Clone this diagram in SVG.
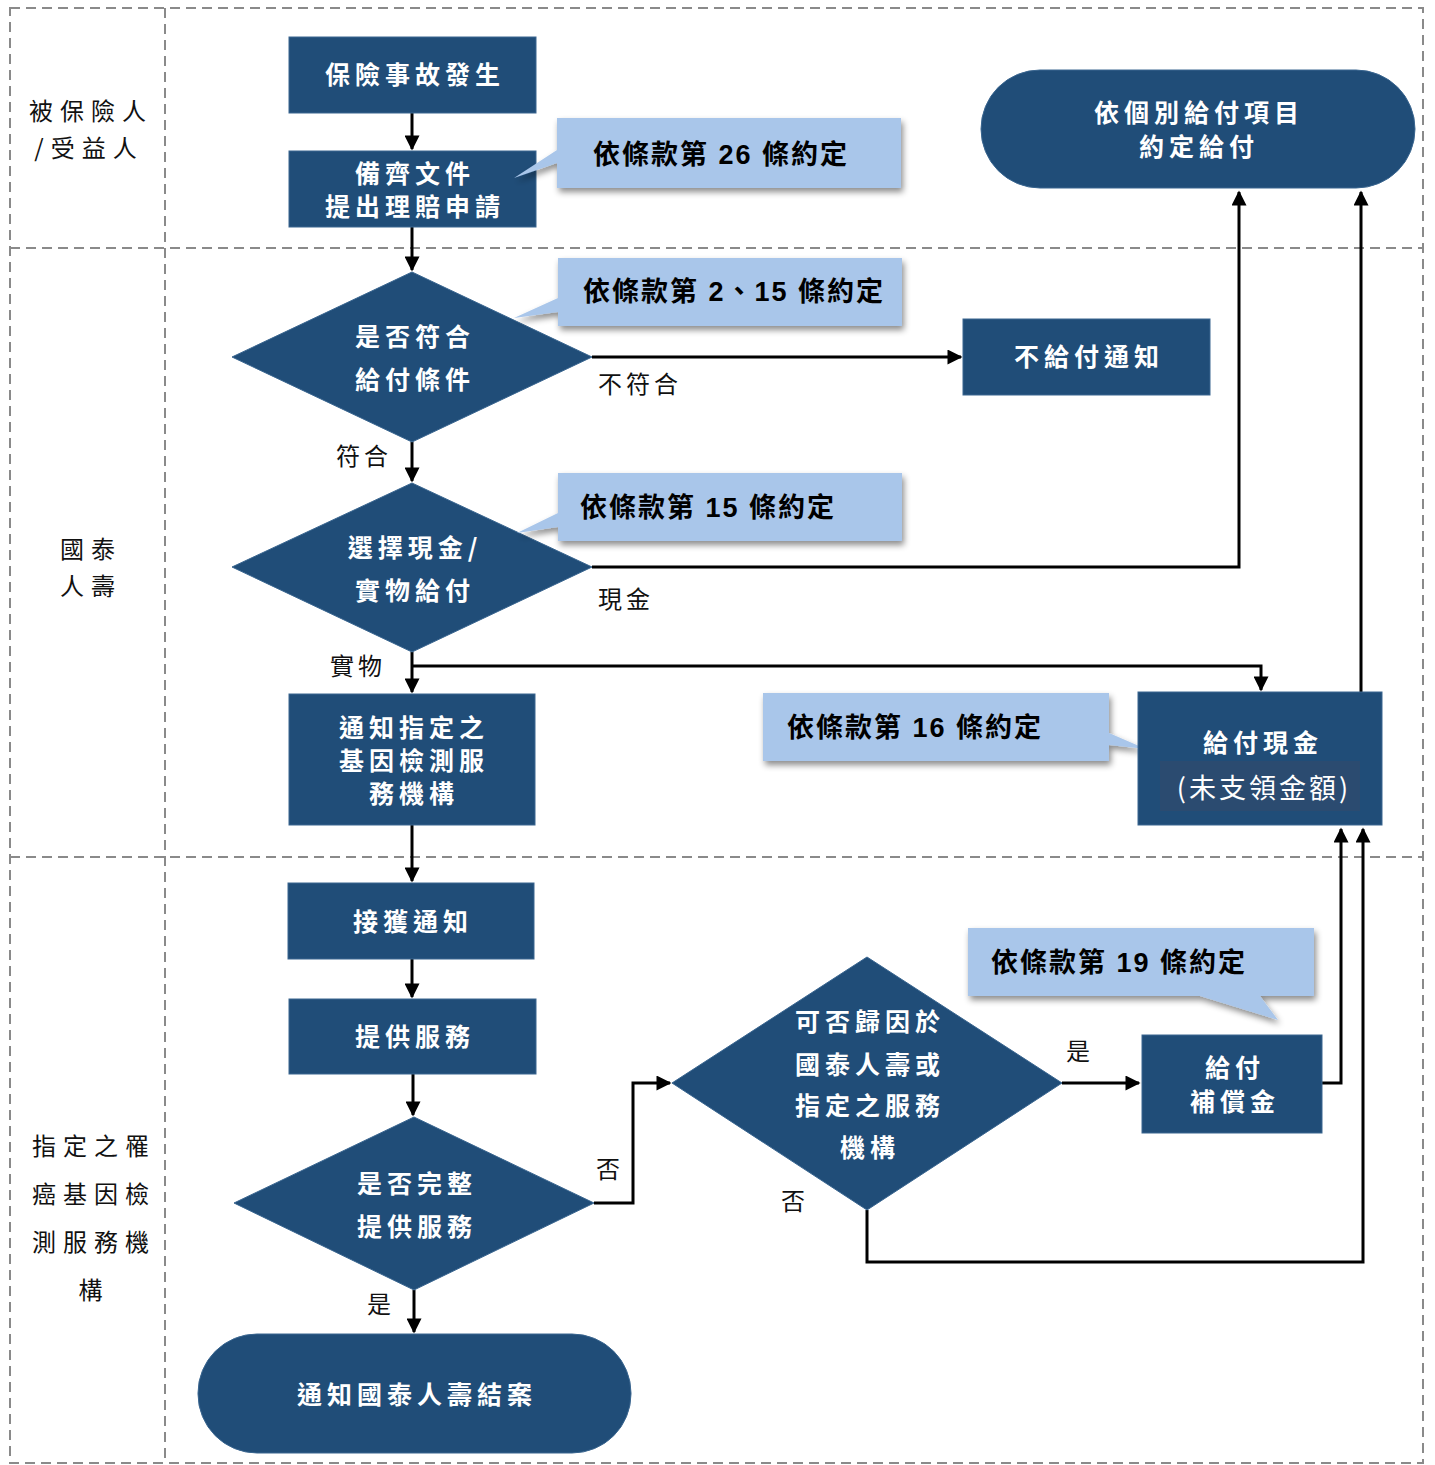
<svg xmlns="http://www.w3.org/2000/svg" width="1435" height="1465" viewBox="0 0 1435 1465">
<style>
.lane{fill:none;stroke:#8a8a8a;stroke-width:2;stroke-dasharray:10,6}
.node{fill:#204d78;stroke:#3a6690;stroke-width:1}
.nt{font-family:"Noto Sans CJK TC","Noto Sans CJK SC",sans-serif;font-size:25px;font-weight:700;fill:#ffffff;text-anchor:middle;letter-spacing:5px}
.lt{font-family:"Noto Sans CJK TC","Noto Sans CJK SC",sans-serif;font-size:24px;fill:#111;text-anchor:middle;letter-spacing:7px}
.el{font-family:"Noto Sans CJK TC","Noto Sans CJK SC",sans-serif;font-size:24px;fill:#111;letter-spacing:4px}
.co{fill:#a9c6ea}
.ct{font-family:"Liberation Sans","Noto Sans CJK TC",sans-serif;font-size:27px;font-weight:700;fill:#000;letter-spacing:2px}
.ln{fill:none;stroke:#000;stroke-width:3}
</style>
<defs>
<marker id="ah" viewBox="0 0 10 10" refX="9" refY="5" markerWidth="5.5" markerHeight="5" orient="auto" markerUnits="strokeWidth">
<path d="M0,0 L10,5 L0,10 z" fill="#000"/>
</marker>
<filter id="sh" x="-10%" y="-20%" width="130%" height="150%">
<feDropShadow dx="2" dy="4" stdDeviation="3" flood-color="#000" flood-opacity="0.45"/>
</filter>
</defs>

<g id="lanes">
<rect class="lane" x="10" y="8" width="1413" height="1455"/>
<line class="lane" x1="165" y1="8" x2="165" y2="1463"/>
<line class="lane" x1="10" y1="248" x2="1423" y2="248"/>
<line class="lane" x1="10" y1="857" x2="1423" y2="857"/>
<text class="lt" x="91" y="120">被保險人</text>
<text class="lt" x="89" y="157">/受益人</text>
<text class="lt" x="91" y="558">國泰</text>
<text class="lt" x="91" y="595">人壽</text>
<text class="lt" x="94" y="1155">指定之罹</text>
<text class="lt" x="94" y="1203">癌基因檢</text>
<text class="lt" x="94" y="1251">測服務機</text>
<text class="lt" x="94" y="1299">構</text>
</g>

<g id="connectors">
<line class="ln" x1="412" y1="113" x2="412" y2="149" marker-end="url(#ah)"/>
<line class="ln" x1="412" y1="227" x2="412" y2="270" marker-end="url(#ah)"/>
<line class="ln" x1="592" y1="357" x2="961" y2="357" marker-end="url(#ah)"/>
<line class="ln" x1="412" y1="442" x2="412" y2="481" marker-end="url(#ah)"/>
<polyline class="ln" points="592,567 1239,567 1239,192" marker-end="url(#ah)"/>
<line class="ln" x1="412" y1="652" x2="412" y2="692" marker-end="url(#ah)"/>
<polyline class="ln" points="412,666 1261,666 1261,690" marker-end="url(#ah)"/>
<line class="ln" x1="1361" y1="692" x2="1361" y2="192" marker-end="url(#ah)"/>
<line class="ln" x1="412" y1="825" x2="412" y2="881" marker-end="url(#ah)"/>
<line class="ln" x1="412" y1="959" x2="412" y2="997" marker-end="url(#ah)"/>
<line class="ln" x1="413" y1="1074" x2="413" y2="1115" marker-end="url(#ah)"/>
<polyline class="ln" points="594,1203 633,1203 633,1083 670,1083" marker-end="url(#ah)"/>
<line class="ln" x1="1062" y1="1083" x2="1139" y2="1083" marker-end="url(#ah)"/>
<polyline class="ln" points="1322,1083 1341,1083 1341,829" marker-end="url(#ah)"/>
<polyline class="ln" points="867,1210 867,1262 1363,1262 1363,829" marker-end="url(#ah)"/>
<line class="ln" x1="414" y1="1290" x2="414" y2="1332" marker-end="url(#ah)"/>
<text class="el" x="598" y="393">不符合</text>
<text class="el" x="336" y="465">符合</text>
<text class="el" x="598" y="608">現金</text>
<text class="el" x="330" y="675">實物</text>
<text class="el" x="596" y="1178">否</text>
<text class="el" x="1066" y="1060">是</text>
<text class="el" x="781" y="1210">否</text>
<text class="el" x="367" y="1313">是</text>
</g>

<g id="n1">
<rect class="node" x="289" y="37" width="247" height="76"/>
<text class="nt" x="415" y="84">保險事故發生</text>
</g>
<g id="n2">
<rect class="node" x="289" y="151" width="247" height="76"/>
<text class="nt" x="415" y="183">備齊文件</text>
<text class="nt" x="415" y="216">提出理賠申請</text>
</g>
<g id="c26">
<path class="co" filter="url(#sh)" d="M557,118 H901 V188 H557 V163 L514,178 L557,150 Z"/>
<text class="ct" x="593" y="164">依條款第 26 條約定</text>
</g>
<g id="d1">
<polygon class="node" points="412,272 592,357 412,442 232,357"/>
<text class="nt" x="415" y="346">是否符合</text>
<text class="nt" x="415" y="389">給付條件</text>
</g>
<g id="c215">
<path class="co" filter="url(#sh)" d="M558,258 H902 V326 H558 V312 L514,318 L558,298 Z"/>
<text class="ct" x="583" y="301">依條款第 2、15 條約定</text>
</g>
<g id="n3">
<rect class="node" x="963" y="319" width="247" height="76"/>
<text class="nt" x="1089" y="366">不給付通知</text>
</g>
<g id="d2">
<polygon class="node" points="412,483 592,567 412,652 232,567"/>
<text class="nt" x="415" y="557">選擇現金/</text>
<text class="nt" x="415" y="600">實物給付</text>
</g>
<g id="c15">
<path class="co" filter="url(#sh)" d="M558,473 H902 V541 H558 V527 L517,533 L558,513 Z"/>
<text class="ct" x="580" y="517">依條款第 15 條約定</text>
</g>
<g id="t1">
<rect class="node" x="981" y="70" width="434" height="118" rx="59" ry="59"/>
<text class="nt" x="1199" y="122">依個別給付項目</text>
<text class="nt" x="1199" y="156">約定給付</text>
</g>
<g id="n4">
<rect class="node" x="289" y="694" width="246" height="131"/>
<text class="nt" x="414" y="737">通知指定之</text>
<text class="nt" x="414" y="770">基因檢測服</text>
<text class="nt" x="414" y="803">務機構</text>
</g>
<g id="c16">
<path class="co" filter="url(#sh)" d="M763,693 H1109 V733 L1146,749 L1109,745 V761 H763 Z"/>
<text class="ct" x="787" y="737">依條款第 16 條約定</text>
</g>
<g id="n5">
<rect class="node" x="1138" y="692" width="244" height="133"/>
<rect x="1160" y="761" width="200" height="50" fill="#2b4b70"/>
<text class="nt" x="1263" y="752">給付現金</text>
<text class="nt" x="1264" y="798" style="font-weight:400;font-size:27px;letter-spacing:3px">(未支領金額)</text>
</g>
<g id="n6">
<rect class="node" x="288" y="883" width="246" height="76"/>
<text class="nt" x="413" y="931">接獲通知</text>
</g>
<g id="n7">
<rect class="node" x="289" y="999" width="247" height="75"/>
<text class="nt" x="415" y="1046">提供服務</text>
</g>
<g id="d3">
<polygon class="node" points="414,1117 594,1203 414,1290 234,1203"/>
<text class="nt" x="417" y="1193">是否完整</text>
<text class="nt" x="417" y="1236">提供服務</text>
</g>
<g id="d4">
<polygon class="node" points="867,957 1062,1083 867,1210 672,1083"/>
<text class="nt" x="870" y="1031">可否歸因於</text>
<text class="nt" x="870" y="1074">國泰人壽或</text>
<text class="nt" x="870" y="1115">指定之服務</text>
<text class="nt" x="870" y="1157">機構</text>
</g>
<g id="c19">
<path class="co" filter="url(#sh)" d="M968,928 H1314 V996 H1260 L1278,1020 L1200,996 H968 Z"/>
<text class="ct" x="991" y="972">依條款第 19 條約定</text>
</g>
<g id="n8">
<rect class="node" x="1142" y="1035" width="180" height="98"/>
<text class="nt" x="1235" y="1077">給付</text>
<text class="nt" x="1235" y="1111">補償金</text>
</g>
<g id="t2">
<rect class="node" x="198" y="1334" width="433" height="119" rx="59" ry="59"/>
<text class="nt" x="417" y="1404">通知國泰人壽結案</text>
</g>
</svg>
